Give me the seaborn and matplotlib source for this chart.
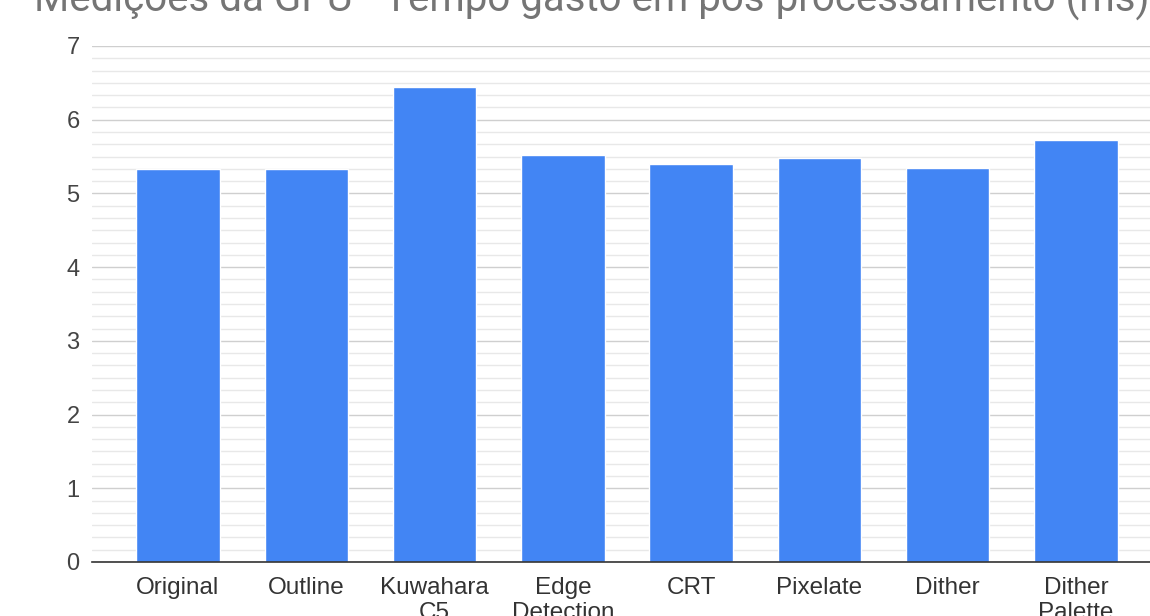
import matplotlib
matplotlib.use("Agg")
import matplotlib.pyplot as plt
from matplotlib.ticker import MultipleLocator
import seaborn as sns
import pandas as pd

# GPU post-processing timings per effect (ms)
effects = ["Original", "Outline", "Kuwahara\nC5", "Edge\nDetection", "CRT",
           "Pixelate", "Dither", "Dither\nPalette"]
times_ms = [5.33, 5.33, 6.45, 5.52, 5.40, 5.48, 5.34, 5.72]
y_ticks = [0, 1, 2, 3, 4, 5, 6, 7]
title = "Medições da GPU - Tempo gasto em pós-processamento (ms)"

sns.set_theme(style="white")
plt.rcParams["font.family"] = ["Liberation Sans", "DejaVu Sans"]

df = pd.DataFrame({"effect": effects, "time": times_ms})

fig = plt.figure(figsize=(11.5, 6.16), dpi=100)
ax = fig.add_axes([92 / 1150, 54 / 616, (1162 - 92) / 1150, (562 - 46) / 616])

sns.barplot(data=df, x="effect", y="time", color="#4285F4", saturation=1,
            width=0.65, ax=ax, zorder=3)

ax.set_ylim(0, 7)
ax.set_xlim(-0.67, 7.67)
ax.set_yticks(y_ticks)
ax.yaxis.set_minor_locator(MultipleLocator(1 / 6))
ax.grid(axis="y", which="major", color="#cfcfcf", linewidth=1.0, zorder=0)
ax.grid(axis="y", which="minor", color="#e8e8e8", linewidth=1.0, zorder=0)
ax.set_axisbelow(True)

for s in ["top", "right", "left"]:
    ax.spines[s].set_visible(False)
ax.spines["bottom"].set_color("#333333")
ax.spines["bottom"].set_linewidth(1.2)
ax.spines["bottom"].set_zorder(4)

ax.tick_params(axis="y", which="both", length=0, pad=9, labelsize=17,
               labelcolor="#444444")
ax.tick_params(axis="x", length=0, pad=11, labelsize=17.5, labelcolor="#333333")
for lbl in ax.get_xticklabels():
    lbl.set_linespacing(1.15)
ax.set_xlabel("")
ax.set_ylabel("")

fig.text(0.515, 1.0 - 12 / 616, title, ha="center", va="baseline",
         fontsize=29, color="#757575", family=["Roboto", "DejaVu Sans"])

fig.savefig("out.png", dpi=100)
